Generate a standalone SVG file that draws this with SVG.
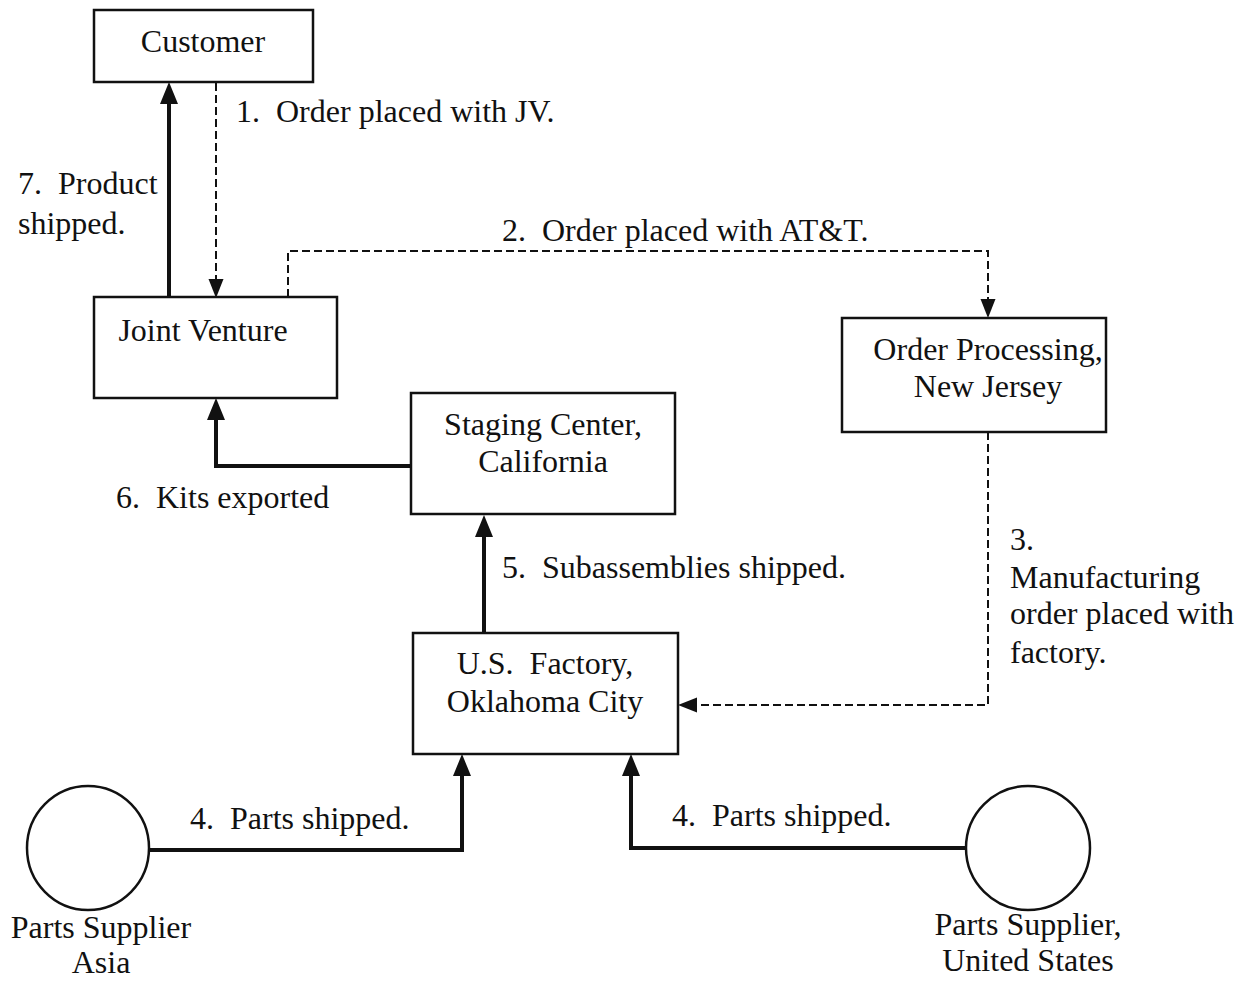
<svg xmlns="http://www.w3.org/2000/svg" width="1243" height="981" viewBox="0 0 1243 981">
<defs>
<style>
text{font-family:"Liberation Serif","Times New Roman",serif;font-size:32px;fill:#111;white-space:pre}
.box{fill:#fff;stroke:#111;stroke-width:2.5}
.solid{fill:none;stroke:#111;stroke-width:4}
.dash{fill:none;stroke:#111;stroke-width:2;stroke-dasharray:8,4}
.c{text-anchor:middle}
</style>
<marker id="ah" markerUnits="userSpaceOnUse" markerWidth="24" markerHeight="20" refX="0" refY="9" orient="auto" overflow="visible"><path d="M0,0 L22,9 L0,18 z" fill="#111"/></marker>
<marker id="ahd" markerUnits="userSpaceOnUse" markerWidth="20" markerHeight="16" refX="0" refY="7.5" orient="auto" overflow="visible"><path d="M0,0 L19,7.5 L0,15 z" fill="#111"/></marker>
</defs>
<rect width="1243" height="981" fill="#fff"/>
<g id="connectors">
<path class="solid" d="M169,297 V104" marker-end="url(#ah)"/>
<path class="dash" d="M216,83 V279" marker-end="url(#ahd)"/>
<path class="dash" d="M288,297 V251 H988 V299" marker-end="url(#ahd)"/>
<path class="dash" d="M988,432 V705 H697" marker-end="url(#ahd)"/>
<path class="solid" d="M411,466 H216 V420" marker-end="url(#ah)"/>
<path class="solid" d="M484,633 V537" marker-end="url(#ah)"/>
<path class="solid" d="M149,850 H462 V776" marker-end="url(#ah)"/>
<path class="solid" d="M966,848 H631 V776" marker-end="url(#ah)"/>
<text x="236" y="122" xml:space="preserve">1.  Order placed with JV.</text>
<text x="18" y="194" xml:space="preserve">7.  Product</text>
<text x="18" y="234">shipped.</text>
<text x="502" y="241" xml:space="preserve">2.  Order placed with AT&amp;T.</text>
<text x="116" y="508" xml:space="preserve">6.  Kits exported</text>
<text x="502" y="578" xml:space="preserve">5.  Subassemblies shipped.</text>
<text x="1010" y="550">3.</text>
<text x="1010" y="588">Manufacturing</text>
<text x="1010" y="624">order placed with</text>
<text x="1010" y="663">factory.</text>
<text x="190" y="829" xml:space="preserve">4.  Parts shipped.</text>
<text x="672" y="826" xml:space="preserve">4.  Parts shipped.</text>
</g>
<g id="customer"><rect class="box" x="94" y="10" width="219" height="72"/><text class="c" x="203" y="52">Customer</text></g>
<g id="joint-venture"><rect class="box" x="94" y="297" width="243" height="101"/><text class="c" x="203" y="341">Joint Venture</text></g>
<g id="order-processing"><rect class="box" x="842" y="318" width="264" height="114"/><text class="c" x="988" y="360">Order Processing,</text><text class="c" x="988" y="397">New Jersey</text></g>
<g id="staging-center"><rect class="box" x="411" y="393" width="264" height="121"/><text class="c" x="543" y="435">Staging Center,</text><text class="c" x="543" y="472">California</text></g>
<g id="us-factory"><rect class="box" x="413" y="633" width="265" height="121"/><text class="c" x="545" y="674" xml:space="preserve">U.S.  Factory,</text><text class="c" x="545" y="712">Oklahoma City</text></g>
<g id="supplier-asia"><ellipse class="box" cx="88" cy="848" rx="61" ry="62"/><text class="c" x="101" y="938">Parts Supplier</text><text class="c" x="101" y="973">Asia</text></g>
<g id="supplier-us"><ellipse class="box" cx="1028" cy="848" rx="62" ry="62"/><text class="c" x="1028" y="935">Parts Supplier,</text><text class="c" x="1028" y="971">United States</text></g>
</svg>
